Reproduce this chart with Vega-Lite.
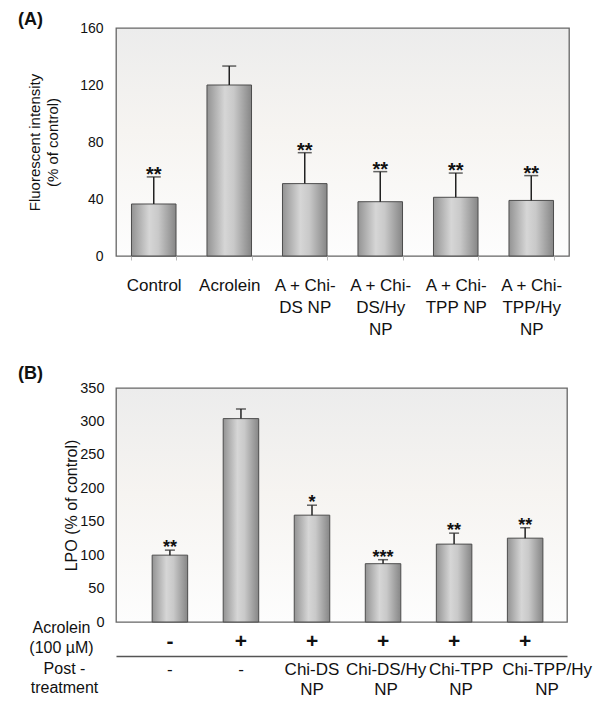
{
  "$schema": "https://vega.github.io/schema/vega-lite/v6.json",
  "padding": {"left": 17, "top": 10, "right": 5, "bottom": 5},
  "background": "white",
  "config": {
    "font": "Liberation Sans",
    "view": {
      "stroke": "#666666",
      "strokeWidth": 1.3,
      "fill": {"gradient": "linear", "x1": 0, "y1": 0, "x2": 0, "y2": 1,
        "stops": [{"offset": 0, "color": "#ececec"}, {"offset": 0.45, "color": "#f6f4f1"}, {"offset": 1, "color": "#fdfdfd"}]}
    },
    "axis": {"labelColor": "#111111", "titleColor": "#111111", "grid": false, "titleFontWeight": "normal", "labelOverlap": false},
    "title": {"color": "#111111"}
  },
  "bounds": "flush",
  "spacing": 132,
  "vconcat": [
    {
      "title": {"text": "(A)", "anchor": "start", "frame": "group", "dx": -98, "fontSize": 18, "fontWeight": "bold", "offset": -8},
      "width": 453,
      "height": 228,
      "data": {"values": [
        {"group": "Control", "value": 36.5, "upper": 55.5, "sig": "**"},
        {"group": "Acrolein", "value": 120, "upper": 133.3, "sig": ""},
        {"group": "A + Chi-|DS NP", "value": 50.8, "upper": 72.5, "sig": "**"},
        {"group": "A + Chi-|DS/Hy|NP", "value": 38.1, "upper": 59.2, "sig": "**"},
        {"group": "A + Chi-|TPP NP", "value": 41.2, "upper": 58.2, "sig": "**"},
        {"group": "A + Chi-|TPP/Hy|NP", "value": 39, "upper": 56.4, "sig": "**"}
      ]},
      "encoding": {
        "x": {"field": "group", "type": "nominal",
          "scale": {"type": "band", "domain": ["Control", "Acrolein", "A + Chi-|DS NP", "A + Chi-|DS/Hy|NP", "A + Chi-|TPP NP", "A + Chi-|TPP/Hy|NP"], "paddingInner": 0.41, "paddingOuter": 0.205},
          "axis": {"title": null, "labelAngle": 0, "labelExpr": "isValid(datum.value) ? split(datum.value, '|') : ''", "labelFontSize": 17, "labelLineHeight": 22, "labelPadding": 17,
            "domain": false, "ticks": true, "tickBand": "extent", "tickSize": 4, "tickColor": "#bbbbbb", "labelBaseline": "top"}}
      },
      "layer": [
        {
          "mark": {"type": "bar", "stroke": "#4d4d4d", "strokeWidth": 1,
            "color": {"gradient": "linear", "x1": 0, "y1": 0, "x2": 1, "y2": 0,
              "stops": [{"offset": 0, "color": "#939393"}, {"offset": 0.4, "color": "#d6d6d6"}, {"offset": 0.6, "color": "#c9c9c9"}, {"offset": 1, "color": "#868686"}]}},
          "encoding": {
            "y": {"field": "value", "type": "quantitative", "scale": {"domain": [0, 160], "nice": false},
              "axis": {"title": ["Fluorescent intensity", "(% of control)"], "values": [0, 40, 80, 120, 160], "labelFontSize": 14, "ticks": false, "domain": false, "labelOverlap": false,
                "labelPadding": 13, "titleFontSize": 15, "titleLineHeight": 18, "titlePadding": 19}}
          }
        },
        {
          "mark": {"type": "rule", "color": "#222222", "strokeWidth": 1.5},
          "encoding": {"y": {"field": "value", "type": "quantitative"}, "y2": {"field": "upper"}}
        },
        {
          "mark": {"type": "tick", "color": "#222222", "thickness": 1.5, "size": 14},
          "encoding": {"y": {"field": "upper", "type": "quantitative"}}
        },
        {
          "mark": {"type": "text", "fontSize": 20, "fontWeight": "bold", "baseline": "middle", "dy": -2, "color": "#111111"},
          "encoding": {"y": {"field": "upper", "type": "quantitative"}, "text": {"field": "sig"}}
        }
      ]
    },
    {
      "title": {"text": "(B)", "anchor": "start", "frame": "group", "dx": -98, "fontSize": 18, "fontWeight": "bold", "offset": -3},
      "width": 451,
      "height": 234,
      "data": {"values": [
        {"group": "Control", "value": 100, "upper": 107.5, "sig": "**"},
        {"group": "Acrolein", "value": 304.2, "upper": 318.6, "sig": ""},
        {"group": "Chi-DS|NP", "value": 159.8, "upper": 174.7, "sig": "*"},
        {"group": "Chi-DS/Hy|NP", "value": 87.2, "upper": 93.2, "sig": "***"},
        {"group": "Chi-TPP|NP", "value": 116.5, "upper": 132.9, "sig": "**"},
        {"group": "Chi-TPP/Hy|NP", "value": 125.4, "upper": 141, "sig": "**"}
      ]},
      "resolve": {"scale": {"x": "independent"}, "axis": {"x": "independent"}},
      "layer": [
        {
          "mark": {"type": "bar", "stroke": "#4d4d4d", "strokeWidth": 1,
            "color": {"gradient": "linear", "x1": 0, "y1": 0, "x2": 1, "y2": 0,
              "stops": [{"offset": 0, "color": "#939393"}, {"offset": 0.4, "color": "#d6d6d6"}, {"offset": 0.6, "color": "#c9c9c9"}, {"offset": 1, "color": "#868686"}]}},
          "encoding": {
            "x": {"field": "group", "type": "nominal",
              "scale": {"type": "band", "domain": ["Control", "Acrolein", "Chi-DS|NP", "Chi-DS/Hy|NP", "Chi-TPP|NP", "Chi-TPP/Hy|NP"], "paddingInner": 0.5, "paddingOuter": 0.424, "align": 0.6},
              "axis": {"orient": "bottom", "labelAngle": 0, "labelExpr": "datum.value == 'Control' ? '-' : '+'", "labelFontSize": 21, "labelFontWeight": "bold", "labelPadding": 8,
                "domain": false, "ticks": false, "labelBaseline": "top",
                "title": ["Acrolein", "(100 µM)"], "titleFontSize": 16, "titleLineHeight": 20, "titleAngle": 0, "titleAlign": "center", "titleBaseline": "top", "titleX": -55, "titleY": -3}},
            "y": {"field": "value", "type": "quantitative", "scale": {"domain": [0, 350], "nice": false},
              "axis": {"title": "LPO  (% of control)", "values": [0, 50, 100, 150, 200, 250, 300, 350], "tickCount": 8, "labelFontSize": 14.5, "ticks": false, "domain": false, "labelOverlap": false,
                "labelPadding": 12, "titleFontSize": 16, "titlePadding": 0}}
          }
        },
        {
          "mark": {"type": "rule", "color": "#222222", "strokeWidth": 1.5},
          "encoding": {
            "x": {"field": "group", "type": "nominal",
              "scale": {"type": "band", "domain": ["Control", "Acrolein", "Chi-DS|NP", "Chi-DS/Hy|NP", "Chi-TPP|NP", "Chi-TPP/Hy|NP"], "paddingInner": 0.5, "paddingOuter": 0.424, "align": 0.6},
              "axis": {"orient": "bottom", "offset": 34, "labelAngle": 0,
                "labelExpr": "datum.value == 'Control' || datum.value == 'Acrolein' ? '-' : split(datum.value, '|')",
                "labelFontSize": 17, "labelLineHeight": 20, "labelPadding": 5, "labelBaseline": "top",
                "labelOffset": {"condition": [{"test": "datum.value == 'Chi-TPP/Hy|NP'", "value": 22}, {"test": "datum.value == 'Chi-TPP|NP'", "value": 7}, {"test": "datum.value == 'Chi-DS/Hy|NP'", "value": 3}], "value": 0},
                "domain": true, "domainColor": "#555555", "domainWidth": 1.5, "ticks": false,
                "title": ["Post -", "treatment"], "titleFontSize": 16, "titleLineHeight": 19, "titleAngle": 0, "titleAlign": "center", "titleBaseline": "top", "titleX": -52, "titleY": 4}},
            "y": {"field": "value", "type": "quantitative",
              "axis": {"title": "LPO  (% of control)", "values": [0, 50, 100, 150, 200, 250, 300, 350], "tickCount": 8, "labelFontSize": 14.5, "ticks": false, "domain": false, "labelOverlap": false,
                "labelPadding": 12, "titleFontSize": 16, "titlePadding": 0}},
            "y2": {"field": "upper"}
          }
        },
        {
          "mark": {"type": "tick", "color": "#222222", "thickness": 1.5, "size": 10},
          "encoding": {
            "x": {"field": "group", "type": "nominal", "axis": null,
              "scale": {"type": "band", "domain": ["Control", "Acrolein", "Chi-DS|NP", "Chi-DS/Hy|NP", "Chi-TPP|NP", "Chi-TPP/Hy|NP"], "paddingInner": 0.5, "paddingOuter": 0.424, "align": 0.6}},
            "y": {"field": "upper", "type": "quantitative",
              "axis": {"title": "LPO  (% of control)", "values": [0, 50, 100, 150, 200, 250, 300, 350], "tickCount": 8, "labelFontSize": 14.5, "ticks": false, "domain": false, "labelOverlap": false,
                "labelPadding": 12, "titleFontSize": 16, "titlePadding": 0}}
          }
        },
        {
          "mark": {"type": "text", "fontSize": 18, "fontWeight": "bold", "baseline": "middle", "dy": -2, "color": "#111111"},
          "encoding": {
            "x": {"field": "group", "type": "nominal", "axis": null,
              "scale": {"type": "band", "domain": ["Control", "Acrolein", "Chi-DS|NP", "Chi-DS/Hy|NP", "Chi-TPP|NP", "Chi-TPP/Hy|NP"], "paddingInner": 0.5, "paddingOuter": 0.424, "align": 0.6}},
            "y": {"field": "upper", "type": "quantitative",
              "axis": {"title": "LPO  (% of control)", "values": [0, 50, 100, 150, 200, 250, 300, 350], "tickCount": 8, "labelFontSize": 14.5, "ticks": false, "domain": false, "labelOverlap": false,
                "labelPadding": 12, "titleFontSize": 16, "titlePadding": 0}},
            "text": {"field": "sig"}
          }
        }
      ]
    }
  ]
}
